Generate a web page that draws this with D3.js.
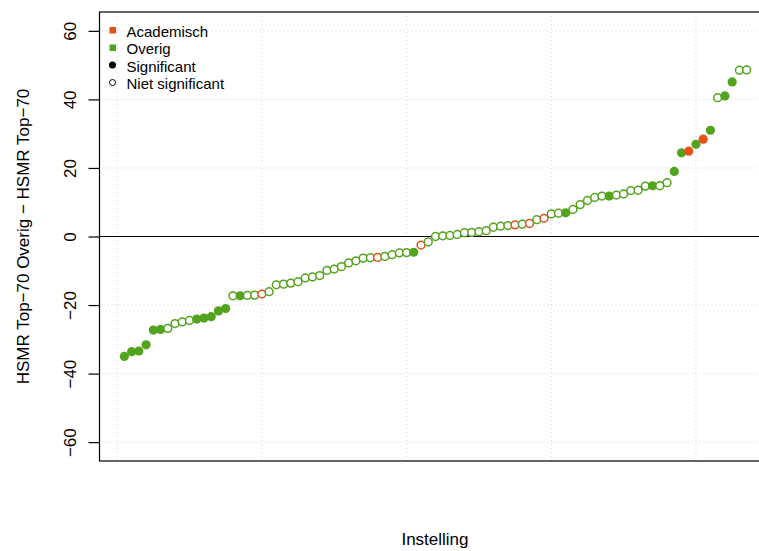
<!DOCTYPE html>
<html>
<head>
<meta charset="utf-8">
<script src="https://cdn.jsdelivr.net/npm/d3@7"></script>
<style>
  body { margin: 0; background: #fff; }
  svg text { font-family: "Liberation Sans", Arial, Helvetica, sans-serif; fill: #000; }
</style>
</head>
<body>
<script>
// difference per instelling, sorted ascending
var verschil = [
  -35.0, -33.6, -33.4, -31.6, -27.3, -27.1, -26.8, -25.4, -24.9, -24.5,
  -24.1, -23.8, -23.4, -21.7, -21.0, -17.3, -17.3, -17.2, -17.1, -16.8,
  -16.1, -14.1, -13.9, -13.6, -13.2, -12.1, -11.8, -11.4, -9.9, -9.5,
  -8.8, -7.7, -7.1, -6.3, -6.2, -6.1, -5.8, -5.3, -4.8, -4.7,
  -4.6, -2.5, -1.6, 0.0, 0.2, 0.3, 0.6, 1.1, 1.2, 1.4,
  1.7, 2.7, 3.0, 3.2, 3.4, 3.6, 3.8, 4.9, 5.3, 6.6,
  6.8, 6.9, 7.9, 9.3, 10.5, 11.4, 11.8, 11.8, 12.1, 12.4,
  13.4, 13.5, 14.7, 14.8, 14.8, 15.7, 19.0, 24.4, 24.9, 26.9,
  28.4, 31.0, 40.5, 41.0, 45.1, 48.5, 48.6
];
// A = Academisch, O = Overig
var soort = [
  "O","O","O","O","O","O","O","O","O","O",
  "O","O","O","O","O","O","O","O","O","A",
  "O","O","O","O","O","O","O","O","O","O",
  "O","O","O","O","O","A","O","O","O","O",
  "O","A","O","O","O","O","O","O","O","O",
  "O","O","O","O","A","O","A","O","A","O",
  "O","O","O","O","O","O","O","O","O","O",
  "O","O","O","O","O","O","O","O","A","O",
  "A","O","O","O","O","O","O"
];
// 1 = significant, 0 = niet significant
var significant = [
  1,1,1,1,1,1,0,0,0,0,
  1,1,1,1,1,0,1,0,0,0,
  0,0,0,0,0,0,0,0,0,0,
  0,0,0,0,0,0,0,0,0,0,
  1,0,0,0,0,0,0,0,0,0,
  0,0,0,0,0,0,0,0,0,0,
  0,1,0,0,0,0,0,1,0,0,
  0,0,0,1,0,0,1,1,1,1,
  1,1,0,1,1,0,0
];
var yTicks = [-60, -40, -20, 0, 20, 40, 60];
var xGrid = [0, 20, 40, 60, 80];
var legendLabels = ["Academisch", "Overig", "Significant", "Niet significant"];

var kleur = { A: "#e8501a", O: "#52a31d" };

var svgWidth = 759, svgHeight = 551;
var plot = { left: 99.5, right: 771.5, top: 12, bottom: 461 };

var svg = d3.select("body").append("svg")
  .attr("width", svgWidth)
  .attr("height", svgHeight);

var data = verschil.map(function(v, i) {
  return { idx: i + 1, val: v, soort: soort[i], sig: significant[i] };
});

var n = data.length;
var pad = (n - 1) * 0.04;
var x = d3.scaleLinear().domain([1 - pad, n + pad]).range([plot.left, plot.right]);
var y = d3.scaleLinear().domain([-65.5, 65.5]).range([plot.bottom, plot.top]);

// dotted grid
var grid = svg.append("g").attr("stroke", "#d3d3d3").attr("stroke-dasharray", "1,3").attr("stroke-width", 1);
grid.selectAll("line.v").data(xGrid).enter().append("line")
  .attr("x1", d => x(d)).attr("x2", d => x(d))
  .attr("y1", plot.top).attr("y2", plot.bottom);
grid.selectAll("line.h").data(yTicks).enter().append("line")
  .attr("x1", plot.left).attr("x2", plot.right)
  .attr("y1", d => y(d)).attr("y2", d => y(d));

// zero line
svg.append("line")
  .attr("x1", plot.left).attr("x2", plot.right)
  .attr("y1", y(0)).attr("y2", y(0))
  .attr("stroke", "#000").attr("stroke-width", 1.2);

// points
svg.append("g").selectAll("circle")
  .data(data)
  .enter()
  .append("circle")
  .attr("cx", d => x(d.idx))
  .attr("cy", d => y(d.val))
  .attr("r", d => d.sig ? 4.6 : 3.9)
  .attr("fill", d => d.sig ? kleur[d.soort] : "#fff")
  .attr("stroke", d => kleur[d.soort])
  .attr("stroke-width", d => d.sig ? 0 : 1.5);

// box
svg.append("rect")
  .attr("x", plot.left).attr("y", plot.top)
  .attr("width", plot.right - plot.left).attr("height", plot.bottom - plot.top)
  .attr("fill", "none").attr("stroke", "#000").attr("stroke-width", 1.2);

// y axis
var leftAxis = d3.axisLeft(y).tickValues(yTicks).tickSize(11).tickPadding(0).tickFormat(d => d < 0 ? "\u2212" + Math.abs(d) : d);
var yAxis = svg.append("g").attr("transform", `translate(${plot.left},0)`).call(leftAxis);
yAxis.select(".domain").remove();
yAxis.selectAll(".tick line").attr("stroke", "#000").attr("stroke-width", 1.2);
yAxis.selectAll(".tick text")
  .attr("x", null).attr("dy", null)
  .attr("transform", "translate(-24,0) rotate(-90)")
  .attr("text-anchor", "middle")
  .style("font-size", "17px");

// axis titles
svg.append("text")
  .attr("transform", `translate(29, ${(plot.top + plot.bottom) / 2}) rotate(-90)`)
  .attr("text-anchor", "middle")
  .style("font-size", "17px")
  .text("HSMR Top\u221270 Overig \u2212 HSMR Top\u221270");

svg.append("text")
  .attr("x", 435)
  .attr("y", 545)
  .attr("text-anchor", "middle")
  .style("font-size", "17px")
  .text("Instelling");

// legend
var legend = svg.append("g");
legendLabels.forEach(function(lab, i) {
  var yy = 36.5 + i * 17.5;
  if (i < 2) {
    legend.append("rect")
      .attr("x", 109.5).attr("y", yy - 9.5).attr("width", 6.5).attr("height", 6.5)
      .attr("fill", i === 0 ? kleur.A : kleur.O);
  } else {
    legend.append("circle")
      .attr("cx", 112.5).attr("cy", yy - 6.5).attr("r", i === 2 ? 3.5 : 3)
      .attr("fill", i === 2 ? "#000" : "#fff")
      .attr("stroke", "#000").attr("stroke-width", i === 2 ? 0 : 1);
  }
  legend.append("text")
    .attr("x", 126.5).attr("y", yy)
    .style("font-size", "15px")
    .text(lab);
});
</script>
</body>
</html>
